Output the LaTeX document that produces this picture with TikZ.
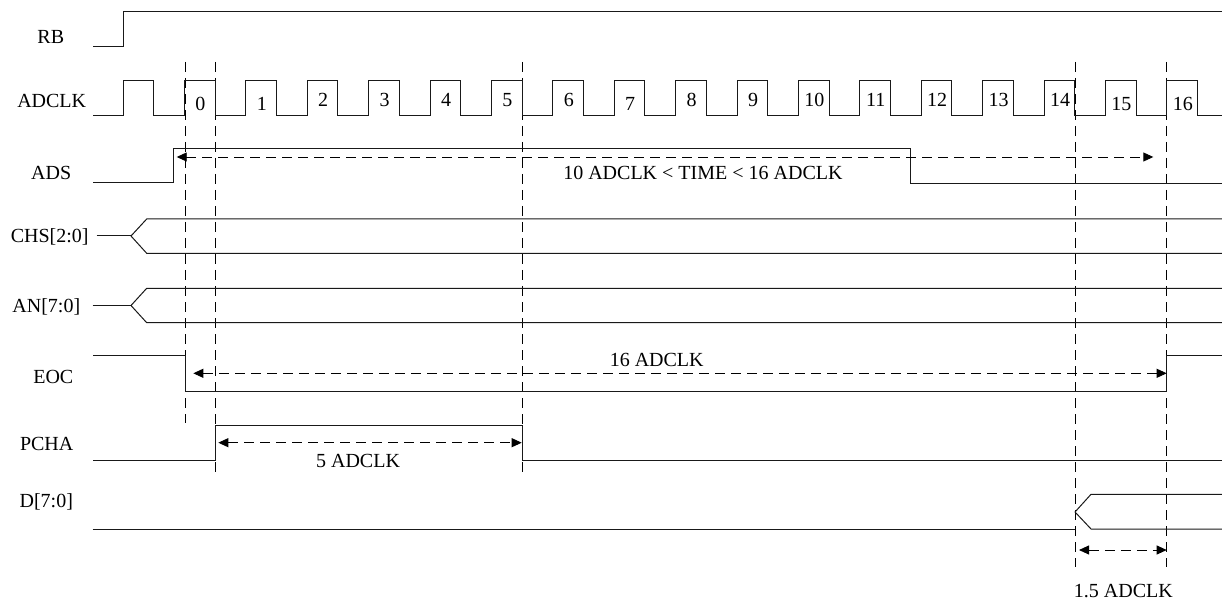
\documentclass[tikz,border=0pt]{standalone}
\usepackage{fontspec}
\setmainfont{Liberation Serif}
\usetikzlibrary{arrows.meta}
\begin{document}
\begin{tikzpicture}[x=1pt,y=-1pt,
  sig/.style={line width=1pt,black!90},
  guide/.style={line width=0.9pt,black,dash pattern=on 10pt off 6pt},
  dim/.style={line width=0.9pt,black,dash pattern=on 10pt off 6pt,{Triangle[length=10pt,width=9pt]}-{Triangle[length=10pt,width=9pt]}},
  lab/.style={font=\fontsize{20}{24}\selectfont,inner sep=0pt,anchor=base},
  num/.style={font=\fontsize{20}{24}\selectfont,inner sep=0pt,anchor=base}]
\useasboundingbox (0,0) rectangle (1222,601);
% signal names
\node[lab] (lRB) at (50.8,43.3) {RB};
\node[lab] (lADCLK) at (51.7,107.3) {ADCLK};
\node[lab] (lADS) at (51.2,180) {ADS};
\node[lab] (lCHS) at (49.7,243) {CHS[2:0]};
\node[lab] (lAN) at (46.3,312.3) {AN[7:0]};
\node[lab] (lEOC) at (53.3,383) {EOC};
\node[lab] (lPCHA) at (46.7,450.7) {PCHA};
\node[lab] (lD) at (46.3,507) {D[7:0]};
% guides
\draw[guide] (185,62) -- (185,422.7);
\draw[guide] (215.7,62) -- (215.7,477.3);
\draw[guide] (522.7,62) -- (522.7,477.3);
\draw[guide] (1075,62) -- (1075,566.7);
\draw[guide] (1166.7,62) -- (1166.7,566.7);
% RB
\draw[sig] (93,46.7) -- (123,46.7) -- (123,11.7) -- (1222,11.7);
% ADCLK
\draw[sig] (93,115.7) foreach \k in {0,...,17}{ -- ({123+61.4*\k},115.7) -- ++(0,-35) -- ++(30.7,0) -- ++(0,35)} -- (1222,115.7);
\foreach \n/\dy in {0/4,1/4,2/0,3/0,4/0,5/0,6/0,7/4,8/0,9/0,10/0,11/0,12/0,13/0,14/0,15/4,16/4}{
  \node[num] (c\n) at ({123+61.4*(\n+1)+16},{106.7+\dy}) {\n};
}
% ADS
\draw[sig] (93,182.7) -- (173.3,182.7) -- (173.3,148.3) -- (910,148.3) -- (910,183.3) -- (1222,183.3);
\coordinate (adsL) at (176.7,157);
\coordinate (adsR) at (1153.3,157);
\draw[dim] (adsL) -- (adsR);
\node[lab] (tADS) at (702.9,179.3) {10 ADCLK < TIME < 16 ADCLK};
% CHS
\draw[sig] (96.7,236) -- (131,236);
\draw[sig] (1222,219) -- (146.7,219) -- (131,236) -- (146.7,253.3) -- (1222,253.3);
% AN
\draw[sig] (92.7,305.5) -- (131,305.5);
\draw[sig] (1222,288.3) -- (146.7,288.3) -- (131,305.5) -- (146.7,322.7) -- (1222,322.7);
% EOC
\draw[sig] (93,355.7) -- (185,355.7) -- (185,391) -- (1166.7,391) -- (1166.7,355.7) -- (1222,355.7);
\coordinate (eocL) at (193.3,373.3);
\coordinate (eocR) at (1166.7,373.3);
\draw[dim] (eocL) -- (eocR);
\node[lab] (tEOC) at (656.7,366) {16 ADCLK};
% PCHA
\draw[sig] (93,460) -- (215.7,460) -- (215.7,425) -- (522.7,425) -- (522.7,460) -- (1222,460);
\coordinate (pchL) at (218.3,442.7);
\coordinate (pchR) at (521.7,442.7);
\draw[dim] (pchL) -- (pchR);
\node[lab] (tPCH) at (358,467.3) {5 ADCLK};
% D
\draw[sig] (92.7,529) -- (1075,529);
\draw[sig] (1222,494.3) -- (1091,494.3) -- (1075,512) -- (1091,529) -- (1222,529);
\coordinate (dL) at (1079,550);
\coordinate (dR) at (1166.7,550);
\draw[dim] (dL) -- (dR);
\node[lab] (tD) at (1123.3,597) {1.5 ADCLK};
\end{tikzpicture}
\end{document}
